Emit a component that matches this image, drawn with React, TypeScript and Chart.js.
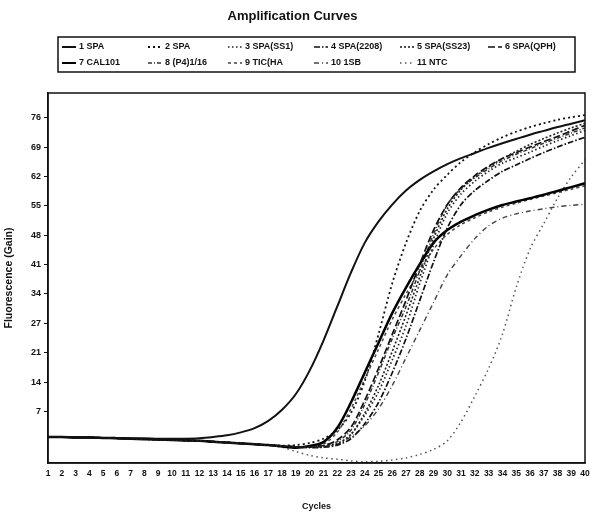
import { useEffect, useRef } from "react";
import { Chart, registerables } from "chart.js";

Chart.register(...registerables);

const cycles = ["1","2","3","4","5","6","7","8","9","10","11","12","13","14","15","16","17","18","19","20","21","22","23","24","25","26","27","28","29","30","31","32","33","34","35","36","37","38","39","40"];

const seriesNames = ["1 SPA", "2 SPA", "3 SPA(SS1)", "4 SPA(2208)", "5 SPA(SS23)", "6 SPA(QPH)", "7 CAL101", "8 (P4)1/16", "9 TIC(HA", "10 1SB", "11 NTC"];

const s1 = [0.9,0.9,0.8,0.8,0.7,0.7,0.6,0.6,0.5,0.5, 0.5,0.6,0.9,1.3,2.0,3.0,4.7,7.3,11,16.5, 23.5,31.5,39.5,46.5,51.5,55.5,58.8,61.3,63.3,65, 66.4,67.6,68.8,69.9,70.9,71.9,72.8,73.7,74.5,75.3];
const s2 = [0.9,0.9,0.8,0.8,0.7,0.6,0.5,0.4,0.3,0.2, 0.1,0,-0.2,-0.4,-0.6,-0.8,-1.0,-1.1,-1.0,-0.5, 0.5,2.5,6.5,14,25,37,46.5,54,59,62.5, 65.5,67.8,69.7,71.3,72.6,73.7,74.6,75.4,76,76.5];
const s3 = [0.9,0.9,0.8,0.8,0.7,0.6,0.5,0.4,0.3,0.2, 0.1,0,-0.2,-0.4,-0.6,-0.8,-1.0,-1.2,-1.4,-1.5, -1.4,-0.8,1.5,6,11.5,19,27,37,46,53.5, 58,61,63.3,65.2,66.5,67.8,69.2,70.5,71.7,72.9];
const s4 = [0.9,0.9,0.8,0.8,0.7,0.6,0.5,0.4,0.3,0.2, 0.1,0,-0.2,-0.4,-0.6,-0.8,-1.0,-1.2,-1.4,-1.6, -1.5,-1.0,0.5,4,9,16,24,33,42,50, 55.5,58.8,61.2,63.3,64.8,66.3,67.7,69,70.2,71.3];
const s5 = [0.9,0.9,0.8,0.8,0.7,0.6,0.5,0.4,0.3,0.2, 0.1,0,-0.2,-0.4,-0.6,-0.8,-1.0,-1.2,-1.4,-1.5, -1.3,-0.6,1.5,6.5,13,21,29.5,38.5,47.5,54.5, 59,62,64.3,66.3,68,69.6,71,72.3,73.5,74.6];
const s6 = [0.9,0.9,0.8,0.8,0.7,0.6,0.5,0.4,0.3,0.2, 0.1,0,-0.2,-0.4,-0.6,-0.8,-1.0,-1.2,-1.4,-1.4, -1.1,0.2,3.2,9.5,17,25,33,41.5,49.5,55.5, 59.5,62.3,64.5,66.3,67.7,69,70.3,71.5,72.8,74.1];
const s7 = [0.9,0.9,0.8,0.8,0.7,0.6,0.5,0.4,0.3,0.2, 0.1,0,-0.2,-0.4,-0.6,-0.8,-1.0,-1.3,-1.6,-1.2, -0.3,3,9,16,23,30,36,41.5,46.5,49.5, 51.5,53,54.3,55.4,56.2,57,57.8,58.7,59.6,60.5];
const s8 = [0.9,0.9,0.8,0.8,0.7,0.6,0.5,0.4,0.3,0.2, 0.1,0,-0.2,-0.4,-0.6,-0.8,-1.0,-1.2,-1.4,-1.5, -1.3,-0.2,2.5,8.5,16,24,31.5,40,48.5,55.5, 59.3,61.8,63.9,65.8,67.3,68.6,69.9,71.1,72.3,73.5];
const s9 = [0.9,0.9,0.8,0.8,0.7,0.6,0.5,0.4,0.3,0.2, 0.1,0,-0.2,-0.4,-0.6,-0.8,-1.0,-1.2,-1.4,-1.3, -0.8,2,7.5,14.5,21.5,28.5,34.5,40,45,48.5, 50.8,52.4,53.8,54.9,55.8,56.7,57.5,58.3,59.1,59.9];
const s10 = [0.9,0.9,0.8,0.8,0.7,0.6,0.5,0.4,0.3,0.2, 0.1,0,-0.2,-0.4,-0.6,-0.8,-1.0,-1.2,-1.4,-1.5, -1.4,-0.8,1,3.5,7.5,13,19.5,26,32.5,39, 43.5,47.5,50.5,52.3,53.3,54,54.5,55,55.3,55.6];
const s11 = [0.9,0.9,0.8,0.8,0.7,0.6,0.5,0.4,0.3,0.2, 0.1,0,-0.2,-0.4,-0.6,-0.8,-1.0,-1.5,-2.5,-3.4, -4.0,-4.3,-4.7,-4.9,-4.8,-4.5,-4.0,-3.2,-2.0,0, 4.5,10.5,17,25,36,45,51,57,62,66];

const yTickValues = [6.9, 13.8, 20.7, 27.6, 34.5, 41.4, 48.3, 55.2, 62.1, 69, 75.9];
const yTickLabels = ["7", "14", "21", "27", "34", "41", "48", "55", "62", "69", "76"];

const FONT = '"Liberation Sans", Arial, sans-serif';

export default function App() {
  const ref = useRef<HTMLCanvasElement>(null);

  useEffect(() => {
    const series = [s1, s2, s3, s4, s5, s6, s7, s8, s9, s10, s11];
    const styles = [
      { dash: [], w: 2, c: "#111" },
      { dash: [2, 3], w: 1.8, c: "#111" },
      { dash: [1.5, 2.5], w: 1.7, c: "#222" },
      { dash: [6, 2, 1.5, 2], w: 1.7, c: "#111" },
      { dash: [2, 2], w: 1.6, c: "#222" },
      { dash: [7, 3], w: 1.7, c: "#111" },
      { dash: [], w: 2.5, c: "#000" },
      { dash: [4, 2, 1, 2], w: 1.5, c: "#333" },
      { dash: [3, 3], w: 1.5, c: "#444" },
      { dash: [5, 3, 1, 3], w: 1.4, c: "#444" },
      { dash: [1.5, 3.5], w: 1.5, c: "#555" },
    ];

    const framePlugin = {
      id: "frame",
      afterDatasetsDraw(chart: any) {
        const { ctx, chartArea: a } = chart;
        ctx.save();
        ctx.strokeStyle = "#111";
        ctx.lineWidth = 1.5;
        ctx.setLineDash([]);
        ctx.strokeRect(a.left, a.top, a.right - a.left, a.bottom - a.top);
        ctx.restore();
      },
    };

    const legendPlugin = {
      id: "boxLegend",
      afterDraw(chart: any) {
        const ctx = chart.ctx;
        ctx.save();
        ctx.strokeStyle = "#111";
        ctx.lineWidth = 1.5;
        ctx.setLineDash([]);
        ctx.strokeRect(58, 37, 517, 35);
        const colX = [62, 148, 228, 314, 400, 488];
        const rowY = [47, 63];
        chart.data.datasets.forEach((ds: any, i: number) => {
          const x = colX[i % 6];
          const y = rowY[Math.floor(i / 6)];
          ctx.setLineDash(ds.borderDash || []);
          ctx.lineWidth = Math.min(ds.borderWidth, 2);
          ctx.strokeStyle = ds.borderColor;
          ctx.beginPath();
          ctx.moveTo(x, y);
          ctx.lineTo(x + 14, y);
          ctx.stroke();
          ctx.setLineDash([]);
          ctx.fillStyle = "#111";
          ctx.font = `bold 9px ${FONT}`;
          ctx.textBaseline = "middle";
          ctx.textAlign = "left";
          ctx.fillText(ds.label, x + 17, y);
        });
        ctx.restore();
      },
    };

    const chart = new Chart(ref.current!, {
      type: "line",
      data: {
        labels: cycles,
        datasets: series.map((d, i) => ({
          label: seriesNames[i],
          data: d,
          borderColor: styles[i].c,
          borderWidth: styles[i].w,
          borderDash: styles[i].dash,
          pointRadius: 0,
          fill: false,
          tension: 0.3,
        })),
      },
      options: {
        responsive: false,
        animation: false,
        devicePixelRatio: 1,
        layout: { padding: { left: 0, right: 7, top: 0, bottom: 0 } },
        plugins: {
          legend: { display: false },
          tooltip: { enabled: false },
          title: {
            display: true,
            text: "Amplification Curves",
            color: "#111",
            font: { family: FONT, size: 13, weight: "bold", lineHeight: 1.2 },
            padding: { top: 9, bottom: 68.4 },
          },
        },
        scales: {
          x: {
            type: "category",
            offset: false,
            grid: { display: false, drawTicks: false },
            border: { display: true, color: "#111", width: 1.5 },
            ticks: {
              autoSkip: false,
              maxRotation: 0,
              minRotation: 0,
              padding: 6,
              color: "#111",
              font: { family: FONT, size: 8.5, weight: "bold" },
            },
            title: {
              display: true,
              text: "Cycles",
              color: "#111",
              font: { family: FONT, size: 9, weight: "bold" },
              padding: { top: 0, bottom: 7 },
            },
            afterFit: (s: any) => { s.height = 56; s.paddingRight = 0; s.paddingLeft = 0; },
          },
          y: {
            type: "linear",
            min: -5.2,
            max: 81.7,
            grid: { drawOnChartArea: false, drawTicks: true, tickLength: 4, color: "#111" },
            border: { display: true, color: "#111", width: 1.5 },
            afterBuildTicks: (axis: any) => {
              axis.ticks = yTickValues.map((v) => ({ value: v }));
            },
            ticks: {
              padding: 3,
              color: "#111",
              font: { family: FONT, size: 9, weight: "bold" },
              callback: (_v: any, i: number) => yTickLabels[i],
            },
            title: {
              display: true,
              text: "Fluorescence (Gain)",
              color: "#111",
              font: { family: FONT, size: 10.5, weight: "bold" },
              padding: { top: 3, bottom: 0 },
            },
            afterFit: (s: any) => { s.width = 48; },
          },
        },
      } as any,
      plugins: [framePlugin, legendPlugin],
    });
    return () => chart.destroy();
  }, []);

  return (
    <div style={{ position: "fixed", left: 0, top: 0, width: 592, height: 519, background: "#fff" }}>
      <canvas ref={ref} width={592} height={519} style={{ display: "block", width: 592, height: 519 }} />
    </div>
  );
}
